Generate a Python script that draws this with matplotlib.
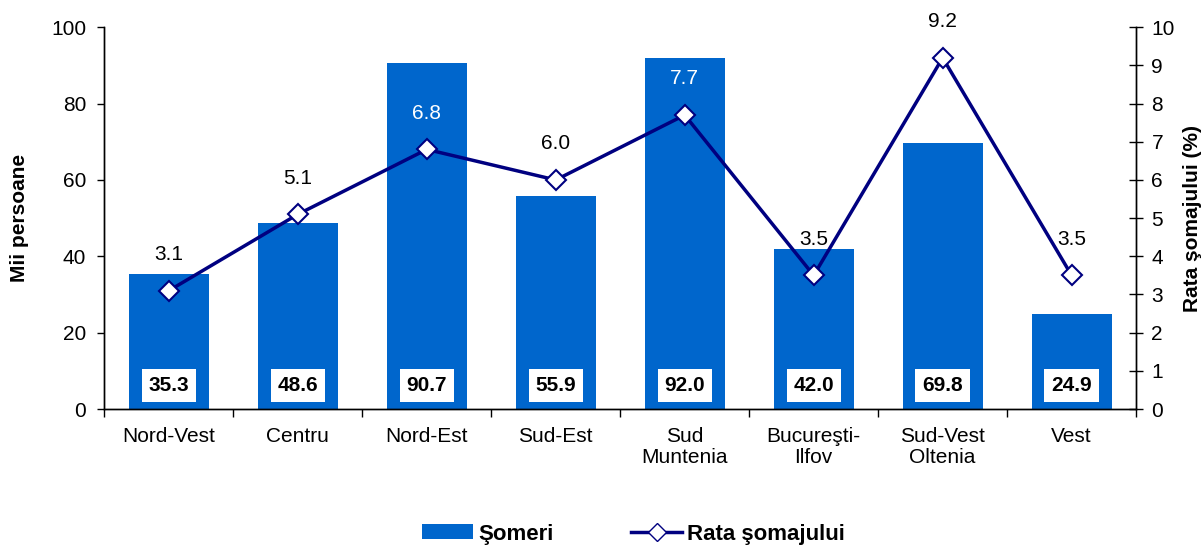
import numpy as np
import matplotlib.pyplot as plt
from matplotlib.patches import Patch
from matplotlib.lines import Line2D

plt.rcParams['font.family'] = ['Liberation Sans', 'DejaVu Sans']

regiuni = ['Nord-Vest', 'Centru', 'Nord-Est', 'Sud-Est', 'Sud\nMuntenia',
           'Bucureşti-\nIlfov', 'Sud-Vest\nOltenia', 'Vest']
someri = [35.3, 48.6, 90.7, 55.9, 92.0, 42.0, 69.8, 24.9]
rata = [3.1, 5.1, 6.8, 6.0, 7.7, 3.5, 9.2, 3.5]
rata_alb = [False, False, True, False, True, False, False, False]

bar_color = '#0066CC'
line_color = '#000080'
fs = 15

fig = plt.figure(figsize=(12.02, 5.45), dpi=100)
ax = fig.add_axes([0.0868, 0.2495, 0.8584, 0.7005])
ax2 = ax.twinx()

x = np.arange(len(regiuni))
ax.bar(x, someri, width=0.62, color=bar_color, zorder=2)
for xi, v in zip(x, someri):
    ax.text(xi, 6.2, f'{v:.1f}', ha='center', va='center', fontsize=fs,
            fontweight='bold', color='black', zorder=4,
            bbox=dict(facecolor='white', edgecolor='none', pad=5))

ax.set_xlim(-0.5, len(regiuni) - 0.5)
ax.set_ylim(0, 100)
ax.set_yticks(np.arange(0, 101, 20))
ax.set_xticks(x)
ax.set_xticklabels(regiuni, fontsize=fs, linespacing=1.1)
ax.set_xticks(np.arange(-0.5, len(regiuni), 1), minor=True)
ax.tick_params(axis='x', which='major', length=0, pad=13)
ax.tick_params(axis='x', which='minor', length=6, direction='out', width=1)
ax.tick_params(axis='y', labelsize=fs, length=5, direction='out', width=1, pad=8)
ax.set_ylabel('Mii persoane', fontsize=fs, fontweight='bold', labelpad=16)

ax2.plot(x, rata, color=line_color, linewidth=2.5, marker='D', markersize=10,
         markerfacecolor='white', markeredgecolor=line_color,
         markeredgewidth=1.5, zorder=5)
for xi, v, alb in zip(x, rata, rata_alb):
    ax2.annotate(f'{v:.1f}', (xi, v), xytext=(0, 26), textcoords='offset points',
                 ha='center', va='center', fontsize=fs,
                 color='white' if alb else 'black')
ax2.set_ylim(0, 10)
ax2.set_yticks(np.arange(0, 11, 1))
ax2.tick_params(axis='y', labelsize=fs, length=10, direction='inout', width=1, pad=6)
ax2.set_ylabel('Rata şomajului (%)', fontsize=fs, fontweight='bold', labelpad=6)

for a in (ax, ax2):
    a.spines['top'].set_visible(False)
    for s in ('left', 'right', 'bottom'):
        a.spines[s].set_linewidth(1)

handles = [Patch(facecolor=bar_color, edgecolor='none'),
           Line2D([], [], color=line_color, linewidth=2.5, marker='D',
                  markersize=9, markerfacecolor='white',
                  markeredgecolor=line_color)]
fig.legend(handles, ['Şomeri', 'Rata şomajului'], loc='center',
           bbox_to_anchor=(0.527, 0.02), ncol=2, frameon=False,
           prop={'size': fs + 1, 'weight': 'bold'}, handlelength=2.3,
           handleheight=0.65, handletextpad=0.2, columnspacing=3.5)

fig.savefig('out.png', dpi=100)
